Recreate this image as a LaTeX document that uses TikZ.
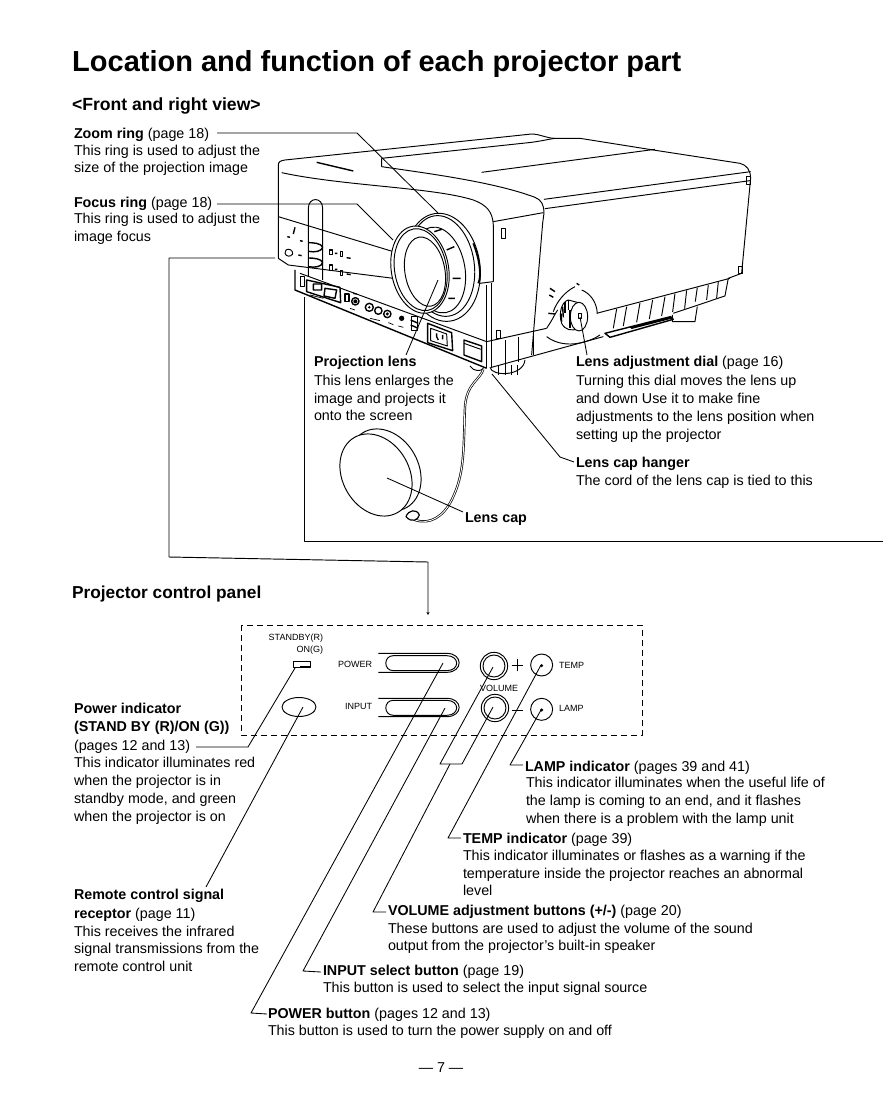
\documentclass[tikz,border=0pt]{standalone}
\usepackage{fontspec}
\setmainfont{Liberation Sans}
\usetikzlibrary{arrows.meta}
\tikzset{
 txt/.style={anchor=base west,inner sep=0pt,outer sep=0pt,font=\fontsize{14.3}{18}\selectfont},
 tiny/.style={anchor=base west,inner sep=0pt,outer sep=0pt,font=\fontsize{9}{10}\selectfont},
 head/.style={anchor=base west,inner sep=0pt,outer sep=0pt,font=\fontsize{17.6}{20}\selectfont\bfseries},
 leader/.style={line width=0.85pt,black},
 art/.style={line width=0.95pt,black},
 thin art/.style={line width=0.7pt,black},
 heavy/.style={line width=1.4pt,black},
 frame line/.style={line width=0.95pt,black}
}
\begin{document}
\begin{tikzpicture}[x=1pt,y=-1pt,line join=round]
\useasboundingbox (0,0) rectangle (890,1119);
\fill[white] (0,0) rectangle (890,1119);

% ---------- projector, traced in zoom coordinates
\begin{scope}[shift={(260,110)},x=0.3333pt,y=-0.3333pt]
\begin{scope}[art]
% top face
\draw (55,165) .. controls (55,155) and (62,152) .. (75,150) -- (815,72) .. controls (840,72) and (860,85) .. (885,85) -- (960,85) -- (1180,120) -- (1440,160) .. controls (1460,165) and (1472,180) .. (1472,205) -- (1445,490) -- (1405,505);
\draw (365,145) -- (815,97) .. controls (850,92) and (870,87) .. (885,85);
\draw (665,187) -- (1185,118);
\draw (365,145) -- (365,170) .. controls (500,190) and (700,215) .. (825,262) .. controls (845,270) and (852,285) .. (852,310) -- (848,340) -- (815,735);
\draw[heavy] (170,157) -- (280,183);
\draw (65,188) .. controls (250,228) and (520,232) .. (640,270) .. controls (680,285) and (698,305) .. (700,345) -- (700,515);
\draw (700,335) -- (850,308);
\draw (852,268) -- (1472,185);
\draw (855,296) -- (1470,212);
% front face
\draw (55,165) -- (55,445) -- (85,465) -- (400,505);
\draw (55,320) -- (400,425);
\draw (145,500) -- (145,295) .. controls (145,260) and (188,260) .. (188,295) -- (188,510);
\draw[heavy] (145,398) .. controls (160,398) and (185,400) .. (188,412) .. controls (185,424) and (165,428) .. (145,424);
\draw[heavy] (145,444) .. controls (160,444) and (185,446) .. (188,458) .. controls (185,470) and (165,474) .. (145,470);
% left controls
\draw (78,420) .. controls (85,414) and (100,420) .. (98,432) .. controls (92,442) and (78,440) .. (75,430) -- cycle;
\draw[heavy] (105,352) -- (100,372) (82,380) -- (90,382) (120,392) -- (128,394) (115,435) -- (125,437);
\draw[heavy] (208,420) rectangle (218,434) (208,465) rectangle (218,482);
\draw[thin art] (240,425) rectangle (248,440) (240,480) rectangle (248,495);
\draw[heavy] (225,430) -- (232,430) (225,478) -- (232,478) (260,443) -- (272,445) (260,492) -- (272,494);
% connector strip
\draw[heavy] (105,480) -- (105,540) -- (680,775);
\draw (120,490) -- (680,695);
\draw (120,500) rectangle (132,528);
\draw[heavy] (140,510) -- (240,532) -- (242,578) -- (140,545) -- cycle;
\draw[heavy] (160,522) rectangle (185,540) (195,535) -- (230,540) -- (225,565) -- (192,558) -- cycle;
\draw[heavy] (255,552) rectangle (267,575);
\draw[heavy] (286,574) circle[radius=11];
\draw[heavy] (280,550) -- (290,552);
\draw[heavy] (328,592) circle[radius=12] (355,602) circle[radius=11] (382,612) circle[radius=11];
\fill (286,574) circle[radius=6] (425,625) circle[radius=8] (328,592) circle[radius=4] (382,612) circle[radius=5];
\draw[heavy] (455,620) rectangle (472,662);
\draw[heavy] (452,630) -- (475,640) (452,645) -- (475,655);
\draw[thin art] (330,625) -- (360,632) (385,638) -- (400,644) (415,648) -- (430,652) (270,595) -- (285,600) (150,555) -- (190,565);
% AC inlet
\draw[heavy] (503,640) -- (575,668) -- (578,722) -- (503,698) -- cycle;
\draw (512,655) -- (560,672) -- (562,708) -- (512,692) -- cycle;
\draw[heavy] (530,670) -- (530,680) (548,675) -- (548,688) (530,680) -- (535,690);
% lower box
\draw[heavy] (612,690) -- (665,708) -- (665,755) -- (612,735) -- cycle;
\draw (612,700) -- (662,718);
% corner
\draw (680,525) -- (680,775) (695,520) -- (695,775);
\draw (660,520) -- (700,515);
\draw (680,695) -- (860,655) (695,772) -- (1030,680);
\draw (860,655) .. controls (880,625) and (880,620) .. (893,600);
\draw[thin art] (708,660) rectangle (720,685);
\draw[thin art] (723,355) rectangle (735,385);
\draw[thin art] (1460,200) rectangle (1470,222);
\draw[thin art] (1435,468) rectangle (1448,490);
% skirt ribs
\foreach \x/\ya/\yb in {735/690/765,775/680/755,820/670/735}
  \draw (\x,\ya) -- (\x,\yb);
\foreach \x/\y/\u/\v in {1070/597/1060/655,1100/590/1090/648,1140/579/1130/637,1178/570/1168/627,1215/560/1205/618,1245/551/1238/606,1280/541/1274/596,1312/533/1306/575,1345/525/1340/570,1375/516/1370/565}
  \draw (\x,\y) -- (\u,\v);
\draw (1010,610) -- (1410,505);
\draw (1405,505) -- (1395,558) -- (1240,610);
% slot under dial
\draw[heavy] (1035,670) -- (1232,620) -- (1240,628) -- (1050,682) -- cycle;
\fill (1110,652) -- (1232,620) -- (1236,626) -- (1115,657) -- cycle;
% feet
\draw (1237,615) -- (1237,635) -- (1305,635) -- (1312,590);
\draw (690,772) .. controls (695,800) and (790,800) .. (795,750);
\foreach \x in {715,735,755,772} \draw (\x,765) -- (\x,795);
\draw (630,768) .. controls (640,785) and (665,785) .. (670,775);
% dial
\draw (860,680) .. controls (920,725) and (1000,690) .. (1020,675);
\draw (965,540) .. controls (990,550) and (1010,575) .. (1012,610);
\draw (880,605) .. controls (890,575) and (915,545) .. (945,530);
\draw[heavy] (950,520) -- (958,525);
\draw[heavy] (870,535) -- (885,545) (868,555) -- (880,562) (865,610) -- (885,612);
\draw[fill=white] (955,578) -- (925,570) .. controls (905,575) and (895,610) .. (905,640) .. controls (915,660) and (935,665) .. (955,655) -- cycle;
\foreach \x/\y/\u/\v in {925/570/925/600, 915/577/915/610, 908/590/910/622, 903/610/905/635, 930/600/930/655}
  \draw[heavy] (\x,\y) -- (\u,\v);
\draw[fill=white] (957,620) ellipse[x radius=26,y radius=43];
\draw[thin art] (955,610) rectangle (965,626);
% lens, back rings then front
\draw[fill=white,rotate around={8:(548,472)}] (548,472) ellipse[x radius=112,y radius=163];
\draw[rotate around={8:(545,468)}] (545,468) ellipse[x radius=98,y radius=152];
\draw[fill=white,rotate around={10:(535,480)}] (535,480) ellipse[x radius=80,y radius=130];
\draw[fill=white,rotate around={10:(480,479)}] (480,479) ellipse[x radius=86,y radius=132];
\draw[rotate around={10:(482,479)}] (482,479) ellipse[x radius=78,y radius=124];
\draw[rotate around={10:(495,485)}] (495,485) ellipse[x radius=60,y radius=105];
\draw[heavy] (523,365) -- (545,358) (560,420) -- (583,410) (578,505) -- (602,505) (565,565) -- (585,565);
\draw[line width=1.8pt] (640,400) .. controls (660,450) and (665,500) .. (655,520);
\end{scope}
\end{scope}

% ---------- lens cap, zoom 3 coordinates
\begin{scope}[shift={(300,340)},x=0.3333pt,y=-0.3333pt,art]
\draw[fill=white,rotate around={30:(255,390)}] (255,390) ellipse[x radius=100,y radius=130];
\draw[fill=white,rotate around={30:(228,405)}] (228,405) ellipse[x radius=100,y radius=130];
\draw[double,double distance=0.9pt,line width=0.7pt] (550,88) .. controls (540,120) and (500,130) .. (495,200) .. controls (490,330) and (495,400) .. (455,480) .. controls (430,530) and (390,555) .. (345,540);
\draw[line width=1.2pt] (318,530) .. controls (325,510) and (350,505) .. (358,525) .. controls (355,540) and (335,550) .. (318,530) -- cycle;
\end{scope}

% ---------- big brackets
\coordinate (brA) at (275,258);
\coordinate (brB) at (169,258);
\coordinate (brC) at (169,557);
\coordinate (brD) at (428,562);
\coordinate (brE) at (428,615);
\draw[frame line,-{Stealth[length=3pt,width=3pt]}] (brA) -- (brB) -- (brC) -- (brD) -- (brE);
\coordinate (boxA) at (304,297);
\coordinate (boxB) at (304,541);
\coordinate (boxC) at (883,541);
\draw[frame line] (boxA) -- (boxB) -- (boxC);

% ---------- text: top part
\node[anchor=base west,inner sep=0pt,font=\fontsize{29}{32}\selectfont\bfseries] (title) at (72,71) {Location and function of each projector part};
\node[head] (front) at (72,110) {<Front and right view>};
\node[txt] (zoomA) at (74,138) {\textbf{Zoom ring} (page 18)};
\node[txt] (zoomB) at (74,155) {This ring is used to adjust the};
\node[txt] (zoomC) at (74,172) {size of the projection image};
\node[txt] (focusA) at (74,207) {\textbf{Focus ring} (page 18)};
\node[txt] (focusB) at (74,223) {This ring is used to adjust the};
\node[txt] (focusC) at (74,241) {image focus};
\node[txt] (lensA) at (314,366) {\textbf{Projection lens}};
\node[txt] (lensB) at (314,385) {This lens enlarges the};
\node[txt] (lensC) at (314,403) {image and projects it};
\node[txt] (lensD) at (314,420) {onto the screen};
\node[txt] (dialA) at (576,366) {\textbf{Lens adjustment dial} (page 16)};
\node[txt] (dialB) at (576,385) {Turning this dial moves the lens up};
\node[txt] (dialC) at (576,403) {and down  Use it to make fine};
\node[txt] (dialD) at (576,421) {adjustments to the lens position when};
\node[txt] (dialE) at (576,439) {setting up the projector};
\node[txt] (hangA) at (576,467) {\textbf{Lens cap hanger}};
\node[txt] (hangB) at (576,485) {The cord of the lens cap is tied to this};
\node[txt] (capA) at (465,522) {\textbf{Lens cap}};
\node[head,font=\fontsize{17.3}{20}\selectfont\bfseries] (panel) at (72,598) {Projector control panel};

% ---------- control panel
\coordinate (pa) at (241,625);
\coordinate (pb) at (642,735);
\draw[frame line,dash pattern=on 6pt off 4pt] (pa) rectangle (pb);
\node[tiny,anchor=base east] (tStandby) at (323,640) {STANDBY(R)};
\node[tiny,anchor=base east] (tOn) at (323,652) {ON(G)};
\node[tiny] (tPower) at (338,667) {POWER};
\node[tiny] (tInput) at (345,709) {INPUT};
\node[tiny] (tVolume) at (480,691) {VOLUME};
\node[tiny] (tTemp) at (559,668) {TEMP};
\node[tiny] (tLamp) at (559,711) {LAMP};
\draw[art] (293,661) rectangle (310,667);
\draw[heavy] (300,667) -- (310,667);
\draw[art] (299,707) ellipse[x radius=17,y radius=9.5];
\begin{scope}[shift={(230,610)},x=0.3333pt,y=-0.3333pt,art]
\draw (445,130) -- (650,130) .. controls (700,130) and (700,187) .. (650,187) -- (445,187);
\draw (490,137) -- (650,137) .. controls (690,137) and (690,182) .. (650,182) -- (490,182) .. controls (460,182) and (460,137) .. (490,137) -- cycle;
\draw (445,265) -- (650,265) .. controls (700,265) and (700,320) .. (650,320) -- (445,320);
\draw (490,271) -- (650,271) .. controls (690,271) and (690,316) .. (650,316) -- (490,316) .. controls (460,316) and (460,271) .. (490,271) -- cycle;
\draw (792,168) circle[radius=41] (792,168) circle[radius=33];
\draw (795,294) circle[radius=41] (795,294) circle[radius=33];
\draw (935,165) circle[radius=33] (935,298) circle[radius=33];
\draw (845,165) -- (880,165) (862,148) -- (862,182) (845,300) -- (880,300);
\fill (935,167) circle[radius=5] (935,300) circle[radius=5];
\end{scope}

% ---------- leaders
\coordinate (zA) at (217,133); \coordinate (zB) at (357,133); \coordinate (zC) at (438,213);
\draw[leader] (zA) -- (zB) -- (zC);
\coordinate (fA) at (217,204); \coordinate (fB) at (357,204); \coordinate (fC) at (393,240);
\draw[leader] (fA) -- (fB) -- (fC);
\coordinate (lA) at (438,280); \coordinate (lB) at (406,355);
\draw[leader] (lA) -- (lB);
\coordinate (dA) at (580,317); \coordinate (dB) at (587,355);
\draw[leader] (dA) -- (dB);
\coordinate (hA) at (492,374); \coordinate (hB) at (560,457); \coordinate (hC) at (574,462);
\draw[leader] (hA) -- (hB) -- (hC);
\coordinate (cA) at (387,478); \coordinate (cB) at (463,512);
\draw[leader] (cA) -- (cB);

\coordinate (pwrA) at (295,668); \coordinate (pwrB) at (248,747); \coordinate (pwrC) at (196,747);
\draw[leader] (pwrA) -- (pwrB) -- (pwrC);
\coordinate (remA) at (303,707); \coordinate (remB) at (206,887);
\draw[leader] (remA) -- (remB);
\coordinate (powA) at (443,663); \coordinate (powB) at (251,1013); \coordinate (powD) at (267,1014);
\draw[leader] (powA) -- (powB) -- (powD);
\coordinate (inA) at (445,708); \coordinate (inB) at (303,971); \coordinate (inD) at (321,972);
\draw[leader] (inA) -- (inB) -- (inD);
\coordinate (voA) at (493,667); \coordinate (voB) at (440,764); \coordinate (voC) at (462,764); \coordinate (voD) at (493,707);
\draw[leader] (voA) -- (voB) -- (voC) -- (voD);
\coordinate (voE) at (450,764); \coordinate (voF) at (373,912); \coordinate (voH) at (386,912);
\draw[leader] (voE) -- (voF) -- (voH);
\coordinate (teA) at (541,665); \coordinate (teB) at (448,838); \coordinate (teD) at (461,838);
\draw[leader] (teA) -- (teB) -- (teD);
\coordinate (laA) at (541,710); \coordinate (laB) at (510,765); \coordinate (laD) at (523,765);
\draw[leader] (laA) -- (laB) -- (laD);

% ---------- text: lower part
\node[txt] (piA) at (74,713) {\textbf{Power indicator}};
\node[txt] (piB) at (74,731) {\textbf{(STAND BY (R)/ON (G))}};
\node[txt] (piC) at (74,750) {(pages 12 and 13)};
\node[txt] (piD) at (74,767) {This indicator illuminates red};
\node[txt] (piE) at (74,785) {when the projector is in};
\node[txt] (piF) at (74,803) {standby mode, and green};
\node[txt] (piG) at (74,821) {when the projector is on};
\node[txt] (reA) at (74,899) {\textbf{Remote control signal}};
\node[txt] (reB) at (74,918) {\textbf{receptor} (page 11)};
\node[txt] (reC) at (74,936) {This receives the infrared};
\node[txt] (reD) at (74,953) {signal transmissions from the};
\node[txt] (reE) at (74,971) {remote control unit};
\node[txt] (lmA) at (525,771) {\textbf{LAMP indicator} (pages 39 and 41)};
\node[txt] (lmB) at (526,787) {This indicator illuminates when the useful life of};
\node[txt] (lmC) at (526,805) {the lamp is coming to an end, and it flashes};
\node[txt] (lmD) at (526,823) {when there is a problem with the lamp unit};
\node[txt] (tmA) at (463,843) {\textbf{TEMP indicator} (page 39)};
\node[txt] (tmB) at (463,860) {This indicator illuminates or flashes as a warning if the};
\node[txt] (tmC) at (463,878) {temperature inside the projector reaches an abnormal};
\node[txt] (tmD) at (463,895) {level};
\node[txt] (vlA) at (388,915) {\textbf{VOLUME adjustment buttons (+/-)} (page 20)};
\node[txt] (vlB) at (388,933) {These buttons are used to adjust the volume of the sound};
\node[txt] (vlC) at (388,950) {output from the projector's built-in speaker};
\node[txt] (ipA) at (323,975) {\textbf{INPUT select button} (page 19)};
\node[txt] (ipB) at (323,992) {This button is used to select the input signal source};
\node[txt] (pbA) at (268,1018) {\textbf{POWER button} (pages 12 and 13)};
\node[txt] (pbB) at (268,1035) {This button is used to turn the power supply on and off};
\node[txt,anchor=base] (pageno) at (441,1072) {— 7 —};
\end{tikzpicture}
\end{document}
